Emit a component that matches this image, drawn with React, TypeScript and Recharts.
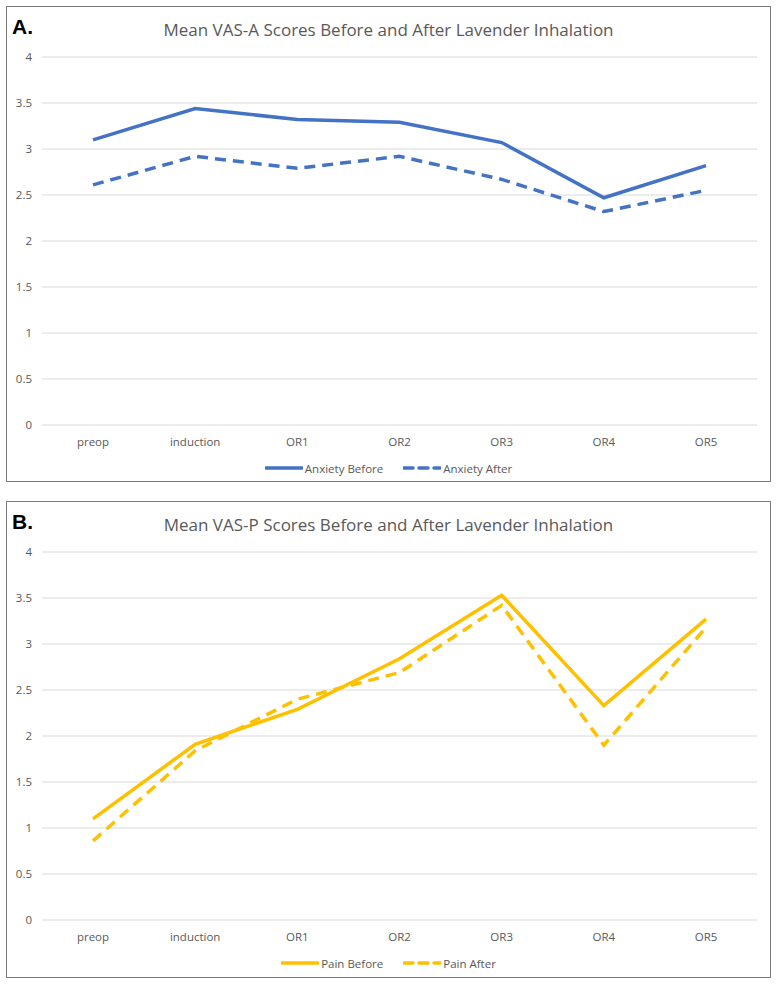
import React from 'react';
import { LineChart, Line, XAxis, YAxis, CartesianGrid } from 'recharts';

// time points shared by both panels
const stages = ['preop', 'induction', 'OR1', 'OR2', 'OR3', 'OR4', 'OR5'];
const yTicks = [0, 0.5, 1, 1.5, 2, 2.5, 3, 3.5, 4];

// panel A: VAS-A (anxiety)
const anxietyBefore = [3.1, 3.44, 3.32, 3.29, 3.07, 2.47, 2.82];
const anxietyAfter = [2.61, 2.92, 2.79, 2.92, 2.67, 2.32, 2.55];

// panel B: VAS-P (pain)
const painBefore = [1.1, 1.91, 2.29, 2.84, 3.53, 2.33, 3.27];
const painAfter = [0.86, 1.84, 2.4, 2.69, 3.42, 1.9, 3.18];

const BLUE = '#4472C4';
const GOLD = '#FFC000';
const TEXT = '#595959';
const FONT = '"Open Sans", "Liberation Sans", sans-serif';

interface PanelProps {
  letter: string;
  title: string;
  top: number;
  height: number;
  color: string;
  beforeLabel: string;
  afterLabel: string;
  before: number[];
  after: number[];
}

function LegendSwatch({ dashed, color }: { dashed: boolean; color: string }) {
  return (
    <svg width={38} height={6} style={{ display: 'block' }}>
      <line
        x1={1}
        y1={3}
        x2={37}
        y2={3}
        stroke={color}
        strokeWidth={3.5}
        strokeLinecap="round"
        strokeDasharray={dashed ? '9 6' : undefined}
      />
    </svg>
  );
}

function Panel({ letter, title, top, height, color, beforeLabel, afterLabel, before, after }: PanelProps) {
  const rows = stages.map((s, i) => ({ stage: s, before: before[i], after: after[i] }));
  const innerW = 763;
  const innerH = height - 2;

  return (
    <div
      style={{
        position: 'absolute',
        left: 6,
        top,
        width: 765,
        height,
        boxSizing: 'border-box',
        border: '1px solid #7a7a7a',
        background: '#fff',
      }}
    >
      <div
        style={{
          position: 'absolute',
          left: 5,
          top: 8,
          fontFamily: '"Liberation Sans", Arial, sans-serif',
          fontWeight: 'bold',
          fontSize: 21,
          color: '#000',
        }}
      >
        {letter}
      </div>
      <div
        style={{
          position: 'absolute',
          left: 0,
          right: 0,
          top: 11,
          textAlign: 'center',
          fontFamily: FONT,
          fontSize: 17,
          color: TEXT,
        }}
      >
        {title}
      </div>
      <LineChart
        width={innerW}
        height={innerH}
        data={rows}
        margin={{ top: 50, right: 13, left: 0, bottom: innerH - 418 - 30 }}
      >
        <CartesianGrid vertical={false} stroke="#d9d9d9" strokeWidth={1} />
        <XAxis
          dataKey="stage"
          axisLine={false}
          tickLine={false}
          tickSize={0}
          tickMargin={13}
          height={30}
          interval={0}
          padding={{ left: 51, right: 51 }}
          tick={{ fontSize: 11.5, fill: TEXT, fontFamily: FONT }}
        />
        <YAxis
          domain={[0, 4]}
          ticks={yTicks}
          width={35}
          axisLine={false}
          tickLine={false}
          tickSize={0}
          tickMargin={10}
          tick={{ fontSize: 11.5, fill: TEXT, fontFamily: FONT }}
        />
        <Line
          dataKey="before"
          stroke={color}
          strokeWidth={3.5}
          dot={false}
          isAnimationActive={false}
        />
        <Line
          dataKey="after"
          stroke={color}
          strokeWidth={3.5}
          strokeDasharray="11 7"
          dot={false}
          isAnimationActive={false}
        />
      </LineChart>
      <div
        style={{
          position: 'absolute',
          left: 0,
          right: 0,
          top: 452,
          height: 18,
          display: 'flex',
          justifyContent: 'center',
          alignItems: 'center',
          fontFamily: FONT,
          fontSize: 11.5,
          color: TEXT,
          gap: 2,
        }}
      >
        <LegendSwatch dashed={false} color={color} />
        <span style={{ marginRight: 18 }}>{beforeLabel}</span>
        <LegendSwatch dashed color={color} />
        <span>{afterLabel}</span>
      </div>
    </div>
  );
}

export default function App() {
  return (
    <div style={{ position: 'absolute', left: 0, top: 0, width: 779, height: 985, background: '#fff' }}>
      <Panel
        letter="A."
        title="Mean VAS-A Scores Before and After Lavender Inhalation"
        top={6}
        height={476}
        color={BLUE}
        beforeLabel="Anxiety Before"
        afterLabel="Anxiety After"
        before={anxietyBefore}
        after={anxietyAfter}
      />
      <Panel
        letter="B."
        title="Mean VAS-P Scores Before and After Lavender Inhalation"
        top={501}
        height={477}
        color={GOLD}
        beforeLabel="Pain Before"
        afterLabel="Pain After"
        before={painBefore}
        after={painAfter}
      />
    </div>
  );
}
